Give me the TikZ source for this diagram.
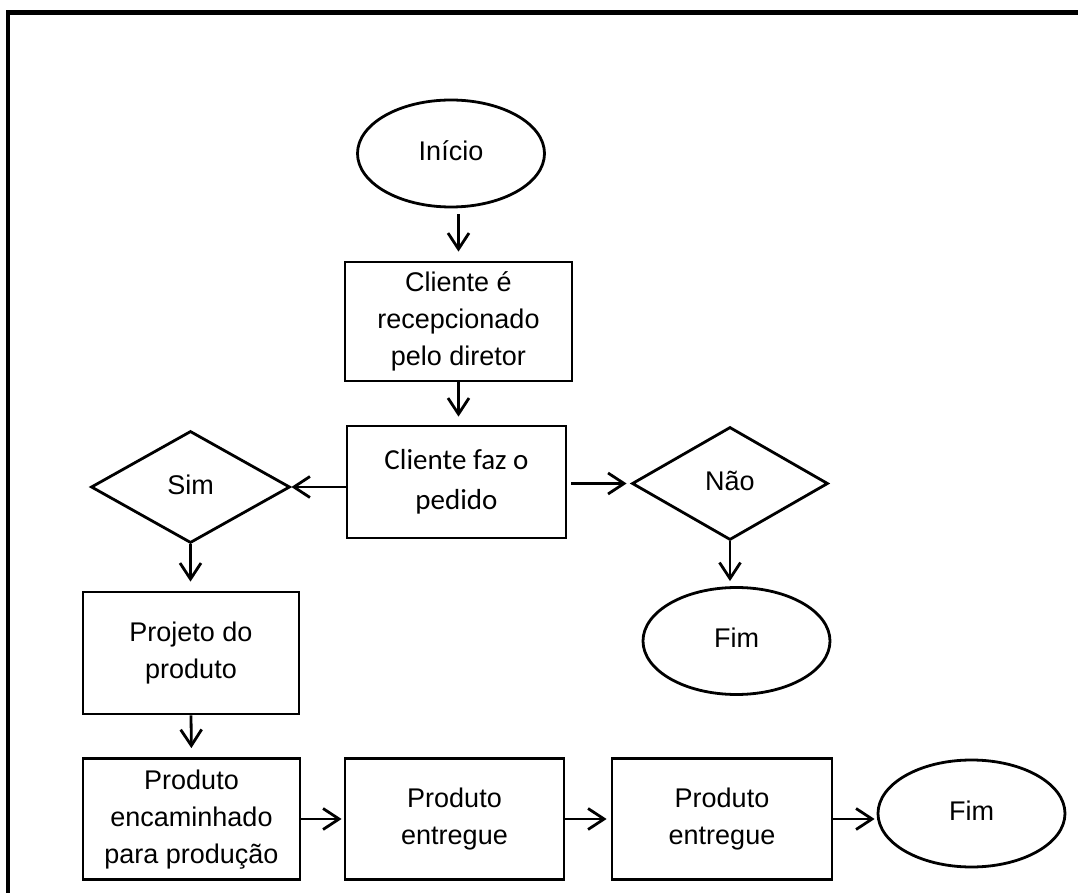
\documentclass[tikz,border=0pt]{standalone}
\usepackage{fontspec}
\setmainfont{Liberation Sans}
\newfontfamily\calibri{Carlito}
\usetikzlibrary{arrows.meta,shapes.geometric}

\newcommand{\rotulo}[2]{\raisebox{#1}{\begin{tabular}{@{}c@{}}#2\end{tabular}}}

\begin{document}
\begin{tikzpicture}[x=0.5pt, y=-0.5pt, line width=1.4pt,
    font=\fontsize{13.5}{18.5}\selectfont,
    caixa/.style={draw, rectangle, inner sep=0pt},
    oval/.style={draw, ellipse, inner sep=0pt, minimum width=93.5pt, minimum height=53.5pt},
    losango/.style={draw, diamond, inner sep=0pt},
    seta/.style={-{Straight Barb[length=8pt,width=10.5pt]}}]

\useasboundingbox (0,0) rectangle (1078,893);
\draw [line width=2.4pt] (8,893) -- (8,12.5) -- (1078,12.5);

\node [oval] (inicio) at (451,153.5) {\rotulo{5.75pt}{Início}};
\node [caixa, minimum width=113.5pt, minimum height=59.5pt] (recep) at (458.5,321.5)
    {\rotulo{0.75pt}{Cliente é\\recepcionado\\pelo diretor}};
\node [caixa, minimum width=109.5pt, minimum height=56pt,
    font=\calibri\fontsize{14.5}{20}\selectfont] (pedido) at (456.5,482)
    {\rotulo{3.5pt}{Cliente faz o\\pedido}};

\node [losango, minimum width=99.5pt, minimum height=56pt] (sim) at (190.5,487) {\rotulo{2.5pt}{Sim}};
\node [losango, minimum width=98pt, minimum height=56.5pt] (nao) at (730,483.5) {\rotulo{3.25pt}{Não}};

\node [oval] (fim1) at (736.5,641) {\rotulo{6.5pt}{Fim}};

\node [caixa, minimum width=108pt, minimum height=61pt] (projeto) at (191,653)
    {\rotulo{6.5pt}{Projeto do\\produto}};
\node [caixa, minimum width=108.5pt, minimum height=60.5pt] (encam) at (191.5,819)
    {\rotulo{-1pt}{Produto\\encaminhado\\para produção}};
\node [caixa, minimum width=109.5pt, minimum height=60.5pt] (entregue1) at (454.5,819)
    {\rotulo{6.75pt}{Produto\\entregue}};
\node [caixa, minimum width=110pt, minimum height=60.5pt] (entregue2) at (722,819)
    {\rotulo{6.25pt}{Produto\\entregue}};
\node [oval] (fim2) at (971.5,813.5) {\rotulo{5.75pt}{Fim}};

\draw [seta, shorten <=3pt, shorten >=4.5pt] (inicio.south -| recep.north) -- (recep.north);
\draw [seta, shorten >=4pt] (recep.south) -- (recep.south |- pedido.north);
\draw [seta] (pedido.west |- sim.east) -- (sim.east);
\draw [seta, shorten <=2pt, shorten >=2pt] (pedido.east |- nao.west) -- (nao.west);
\draw [seta, shorten >=2.5pt] (nao.south) -- (nao.south |- fim1.north);
\draw [seta, shorten >=4.5pt] (sim.south) -- (sim.south |- projeto.north);
\draw [seta, shorten >=4.5pt] (projeto.south) -- (encam.north);
\draw [seta, shorten >=1pt] (encam.east) -- (entregue1.west);
\draw [seta, shorten >=2pt] (entregue1.east) -- (entregue2.west);
\draw [seta, shorten >=1pt] (entregue2.east) -- (entregue2.east -| fim2.west);

\end{tikzpicture}
\end{document}
